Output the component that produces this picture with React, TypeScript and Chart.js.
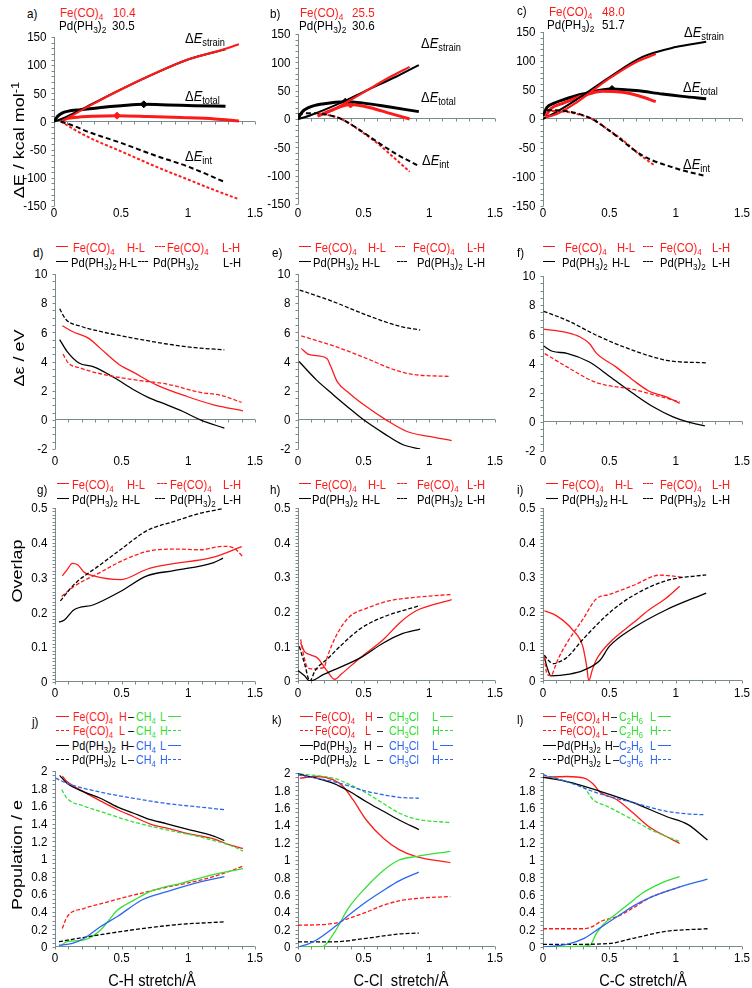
import React, { useEffect, useRef } from 'react';
import { Chart, registerables } from 'chart.js';
Chart.register(...registerables);

type Pts = [number, number][];

// ---------- a) C-H ----------
const aPdStrain: Pts = [[0,0],[0.05,4],[0.1,9],[0.25,27],[0.5,57],[0.75,85],[1,110],[1.28,128]];
const aFeStrain: Pts = [[0.05,0],[0.1,6],[0.25,26],[0.5,57],[0.75,85],[1,110],[1.25,127],[1.38,137]];
const aPdTotal: Pts = [[0,0],[0.03,10],[0.06,15],[0.1,18],[0.2,21],[0.35,25],[0.5,28],[0.67,30.5],[0.85,29.5],[1.05,28],[1.28,27]];
const aFeTotal: Pts = [[0.05,0],[0.08,4],[0.15,7],[0.3,9.5],[0.47,10.4],[0.7,9],[0.95,7],[1.2,4.5],[1.38,1]];
const aPdInt: Pts = [[0.05,0],[0.15,-8],[0.25,-18],[0.5,-38],[0.75,-60],[1,-80],[1.27,-107]];
const aFeInt: Pts = [[0.05,0],[0.25,-27],[0.5,-53],[0.75,-79],[1,-103],[1.2,-122],[1.38,-138]];
const aPdTS: Pts = [[0.67,30.5]];
const aFeTS: Pts = [[0.47,10.4]];
// ---------- b) C-Cl ----------
const bPdStrain: Pts = [[0,0],[0.05,3],[0.1,7],[0.2,16],[0.35,31],[0.5,48],[0.75,75],[0.92,95]];
const bFeStrain: Pts = [[0.15,5],[0.25,14],[0.35,27],[0.5,47],[0.7,74],[0.85,92]];
const bPdTotal: Pts = [[0,0],[0.03,12],[0.08,20],[0.2,27],[0.36,30.6],[0.5,28],[0.7,21],[0.92,13]];
const bFeTotal: Pts = [[0.15,5],[0.25,15],[0.4,25.5],[0.55,20],[0.7,10],[0.85,0]];
const bPdInt: Pts = [[0,8],[0.05,10],[0.15,10],[0.25,6],[0.33,0],[0.5,-24],[0.6,-40],[0.75,-62],[0.92,-83]];
const bFeInt: Pts = [[0.15,10],[0.25,6],[0.33,0],[0.5,-25],[0.6,-42],[0.7,-62],[0.85,-93]];
const bPdTS: Pts = [[0.36,30.6]];
const bFeTS: Pts = [[0.4,25.5]];
// ---------- c) C-C ----------
const cPdStrain: Pts = [[0,0],[0.1,12],[0.25,33],[0.5,72],[0.75,107],[1,124],[1.23,133]];
const cFeStrain: Pts = [[0.02,3],[0.1,8],[0.25,28],[0.5,70],[0.7,98],[0.85,112]];
const cPdTotal: Pts = [[0,5],[0.03,20],[0.08,27],[0.15,33],[0.3,43],[0.52,51.7],[0.7,49],[0.9,43],[1.05,39],[1.23,35]];
const cFeTotal: Pts = [[0.02,5],[0.06,18],[0.15,27],[0.3,40],[0.45,48],[0.6,46],[0.72,40],[0.85,30]];
const cPdInt: Pts = [[0.03,15],[0.1,15],[0.25,10],[0.37,0],[0.5,-20],[0.75,-63],[1,-85],[1.22,-98]];
const cFeInt: Pts = [[0.03,14],[0.1,14],[0.25,9],[0.37,0],[0.5,-20],[0.6,-36],[0.72,-60],[0.84,-80]];
const cPdTS: Pts = [[0.52,51.7]];
// ---------- d) gaps C-H ----------
const dPdLH: Pts = [[0.035,7.62],[0.08,6.9],[0.2,6.4],[0.34,6.06],[0.59,5.6],[0.84,5.2],[1.05,4.95],[1.27,4.8]];
const dFeHL: Pts = [[0.055,6.45],[0.13,6.06],[0.25,5.6],[0.34,4.9],[0.48,3.8],[0.59,3.25],[0.76,2.4],[0.99,1.6],[1.19,1.03],[1.41,0.62]];
const dFeLH: Pts = [[0.06,4.5],[0.1,3.9],[0.19,3.55],[0.34,3.16],[0.59,2.75],[0.84,2.45],[1.09,1.88],[1.25,1.67],[1.4,1.19]];
const dPdHL: Pts = [[0.035,5.5],[0.09,4.7],[0.18,3.9],[0.28,3.66],[0.34,3.43],[0.47,2.75],[0.59,2.06],[0.71,1.49],[0.84,1.03],[0.96,0.57],[1.09,0],[1.27,-0.57]];
// ---------- e) gaps C-Cl ----------
const ePdLH: Pts = [[0.013,8.9],[0.27,8.1],[0.52,7.19],[0.78,6.4],[0.93,6.16]];
const eFeLH: Pts = [[0.025,5.75],[0.27,5.07],[0.52,4.22],[0.7,3.54],[0.85,3.15],[1.16,2.97]];
const eFeHL: Pts = [[0.025,4.9],[0.076,4.5],[0.14,4.4],[0.22,4.2],[0.25,3.65],[0.3,2.6],[0.39,1.83],[0.52,0.91],[0.67,0],[0.83,-0.8],[1.0,-1.14],[1.17,-1.42]];
const ePdHL: Pts = [[0.008,4.0],[0.14,2.74],[0.27,1.71],[0.39,0.8],[0.5,0],[0.65,-0.91],[0.8,-1.71],[0.93,-2.0]];
// ---------- f) gaps C-C ----------
const fPdLH: Pts = [[0.005,7.58],[0.18,6.96],[0.43,5.82],[0.68,4.9],[0.93,4.22],[1.23,4.04]];
const fFeHL: Pts = [[0.005,6.35],[0.18,6.12],[0.28,5.82],[0.35,5.37],[0.4,4.73],[0.55,3.77],[0.68,2.85],[0.8,2.1],[0.93,1.71],[1.03,1.26]];
const fFeLH: Pts = [[0.013,4.68],[0.18,3.77],[0.4,2.7],[0.68,2.22],[0.8,1.94],[1.03,1.37]];
const fPdHL: Pts = [[0.005,5.2],[0.07,4.84],[0.18,4.7],[0.35,4.1],[0.5,3.13],[0.68,1.94],[0.83,1.03],[0.98,0.34],[1.09,0],[1.22,-0.27]];
// ---------- g) overlap C-H ----------
const gPdLH: Pts = [[0.04,0.233],[0.14,0.279],[0.34,0.337],[0.49,0.38],[0.69,0.435],[0.89,0.461],[1.09,0.485],[1.26,0.498]];
const gFeHL: Pts = [[0.055,0.305],[0.09,0.322],[0.13,0.341],[0.17,0.337],[0.22,0.315],[0.29,0.305],[0.49,0.294],[0.69,0.324],[0.84,0.337],[1.19,0.359],[1.4,0.389]];
const gFeLH: Pts = [[0.05,0.246],[0.14,0.274],[0.34,0.315],[0.49,0.346],[0.69,0.375],[0.89,0.382],[1.09,0.38],[1.26,0.39],[1.34,0.385],[1.41,0.36]];
const gPdHL: Pts = [[0.03,0.172],[0.07,0.178],[0.14,0.207],[0.29,0.222],[0.49,0.26],[0.69,0.305],[0.89,0.32],[1.19,0.343],[1.26,0.356]];
// ---------- h) overlap C-Cl ----------
const hFeLH: Pts = [[0.02,0.12],[0.04,0.08],[0.07,0.04],[0.1,0.035],[0.2,0.04],[0.22,0.066],[0.29,0.13],[0.39,0.185],[0.52,0.21],[0.7,0.232],[0.9,0.242],[1.16,0.25]];
const hPdLH: Pts = [[0.01,0.1],[0.05,0.05],[0.09,0.0],[0.13,0.03],[0.23,0.066],[0.32,0.1],[0.47,0.15],[0.65,0.185],[0.93,0.218]];
const hFeHL: Pts = [[0.02,0.11],[0.05,0.085],[0.1,0.075],[0.15,0.066],[0.22,0.03],[0.28,0.005],[0.33,0.02],[0.47,0.066],[0.65,0.12],[0.78,0.17],[0.9,0.203],[1.17,0.235]];
const hPdHL: Pts = [[0.0,0.03],[0.05,0.015],[0.09,0.0],[0.2,0.02],[0.47,0.066],[0.65,0.11],[0.78,0.135],[0.93,0.15]];
// ---------- i) overlap C-C ----------
const iFeLH: Pts = [[0.01,0.07],[0.03,0.02],[0.06,0.015],[0.09,0.04],[0.11,0.06],[0.18,0.11],[0.3,0.178],[0.4,0.237],[0.5,0.25],[0.68,0.276],[0.88,0.306],[1.055,0.3]];
const iPdLH: Pts = [[0.01,0.075],[0.04,0.06],[0.08,0.05],[0.12,0.055],[0.18,0.068],[0.3,0.12],[0.5,0.197],[0.68,0.247],[0.93,0.29],[1.23,0.307]];
const iFeHL: Pts = [[0.01,0.203],[0.1,0.189],[0.23,0.145],[0.3,0.1],[0.33,0.04],[0.345,0.0],[0.37,0.03],[0.4,0.06],[0.5,0.11],[0.68,0.168],[0.8,0.206],[0.93,0.24],[1.03,0.274]];
const iPdHL: Pts = [[0.01,0.07],[0.03,0.04],[0.06,0.015],[0.2,0.02],[0.3,0.03],[0.43,0.06],[0.5,0.1],[0.68,0.153],[0.93,0.206],[1.23,0.254]];
// ---------- j) populations C-H ----------
const jCH4H_Pd: Pts = [[0.005,1.92],[0.09,1.86],[0.34,1.76],[0.59,1.69],[0.84,1.63],[1.09,1.59],[1.27,1.56]];
const jPdH: Pts = [[0.035,1.95],[0.09,1.86],[0.22,1.76],[0.34,1.69],[0.47,1.59],[0.59,1.52],[0.69,1.46],[0.84,1.4],[0.96,1.35],[1.19,1.26],[1.27,1.21]];
const jFeH: Pts = [[0.055,1.94],[0.09,1.88],[0.22,1.76],[0.34,1.66],[0.47,1.56],[0.59,1.48],[0.71,1.4],[0.84,1.35],[0.99,1.29],[1.19,1.23],[1.31,1.16],[1.41,1.12]];
const jCH4H_Fe: Pts = [[0.05,1.79],[0.09,1.69],[0.22,1.6],[0.34,1.54],[0.59,1.42],[0.84,1.33],[1.09,1.25],[1.34,1.14],[1.41,1.09]];
const jFeL: Pts = [[0.055,0.21],[0.09,0.34],[0.22,0.44],[0.34,0.49],[0.59,0.59],[0.84,0.68],[1.09,0.76],[1.29,0.85],[1.41,0.92]];
const jCH4L_Fe: Pts = [[0.04,0.01],[0.09,0.06],[0.22,0.08],[0.34,0.19],[0.47,0.42],[0.59,0.53],[0.71,0.63],[0.96,0.73],[1.21,0.83],[1.41,0.89]];
const jCH4L_Pd: Pts = [[0.03,0.02],[0.13,0.04],[0.22,0.1],[0.34,0.23],[0.47,0.35],[0.66,0.54],[0.84,0.63],[1.09,0.74],[1.27,0.8]];
const jPdL: Pts = [[0.03,0.06],[0.22,0.11],[0.47,0.17],[0.71,0.22],[0.96,0.26],[1.27,0.285]];
// ---------- k) populations C-Cl ----------
const kCH3ClH_Fe: Pts = [[0.013,1.99],[0.27,1.94],[0.39,1.87],[0.52,1.77],[0.65,1.65],[0.77,1.54],[0.9,1.47],[1.16,1.43]];
const kPdH: Pts = [[0,1.99],[0.14,1.94],[0.27,1.88],[0.39,1.79],[0.52,1.67],[0.65,1.56],[0.77,1.46],[0.92,1.35]];
const kCH3ClH_Pd: Pts = [[0,1.98],[0.27,1.9],[0.39,1.85],[0.52,1.79],[0.65,1.75],[0.77,1.72],[0.92,1.71]];
const kFeH: Pts = [[0.013,1.94],[0.14,1.96],[0.27,1.92],[0.34,1.85],[0.42,1.69],[0.52,1.46],[0.65,1.25],[0.77,1.12],[0.9,1.04],[1.16,0.97]];
const kCH3ClL_Fe: Pts = [[0,0],[0.18,0],[0.27,0.15],[0.39,0.46],[0.52,0.69],[0.65,0.88],[0.77,1.0],[0.9,1.04],[1.16,1.1]];
const kCH3ClL_Pd: Pts = [[0,0],[0.07,0.03],[0.14,0.08],[0.27,0.22],[0.39,0.37],[0.52,0.52],[0.65,0.65],[0.77,0.76],[0.92,0.86]];
const kFeL: Pts = [[0,0.25],[0.27,0.27],[0.39,0.33],[0.52,0.4],[0.65,0.48],[0.77,0.53],[0.92,0.56],[1.16,0.58]];
const kPdL: Pts = [[0,0.06],[0.27,0.06],[0.52,0.1],[0.77,0.15],[0.92,0.16]];
// ---------- l) populations C-C ----------
const lFeH: Pts = [[0,1.95],[0.18,1.96],[0.31,1.94],[0.38,1.87],[0.43,1.78],[0.56,1.69],[0.68,1.54],[0.81,1.37],[0.93,1.27],[1.03,1.19]];
const lC2H6H_Fe: Pts = [[0,1.98],[0.18,1.9],[0.31,1.83],[0.38,1.69],[0.48,1.62],[0.68,1.46],[0.81,1.35],[1.03,1.21]];
const lPdH: Pts = [[0,1.95],[0.18,1.9],[0.43,1.79],[0.68,1.66],[0.93,1.5],[1.09,1.41],[1.24,1.23]];
const lC3H6H_Pd: Pts = [[0,1.98],[0.18,1.9],[0.43,1.76],[0.68,1.66],[0.93,1.56],[1.09,1.53],[1.22,1.52]];
const lC2H6L_Fe: Pts = [[0,0],[0.31,0.01],[0.36,0.03],[0.4,0.15],[0.45,0.25],[0.55,0.38],[0.65,0.5],[0.75,0.62],[0.9,0.74],[1.03,0.81]];
const lC2H6L_Pd: Pts = [[0,0],[0.18,0.03],[0.31,0.1],[0.43,0.22],[0.56,0.35],[0.68,0.47],[0.81,0.57],[1.01,0.68],[1.24,0.78]];
const lFeL: Pts = [[0,0.21],[0.31,0.21],[0.38,0.24],[0.43,0.29],[0.56,0.35],[0.68,0.45],[0.81,0.57],[1.03,0.69]];
const lPdL: Pts = [[0,0.03],[0.18,0.03],[0.5,0.04],[0.68,0.1],[0.93,0.18],[1.24,0.21]];

// tick / label texts
const xTickMax = 1.5;
const barriers = { a: ['10.4', '30.5'], b: ['25.5', '30.6'], c: ['48.0', '51.7'] };

const RED = '#ff1a1a';
const BLK = '#000000';
const GRN = '#33e033';
const BLU = '#2a66f0';
const AXIS = '#7b8a8a';
const FONT = '"Liberation Sans", Arial, Helvetica, sans-serif';
const K = 0.86; // horizontal squeeze of the original lettering

type S = { d: Pts; c: string; w: number; dash?: number[]; mark?: boolean };
type PanelCfg = { L: number; R: number; T: number; B: number; ymin: number; ymax: number; ystep: number; yminor: number; xlab: number; series: S[] };

const D1 = [5, 3];
const D2 = [4, 2];
const row1 = (strPd: Pts, strFe: Pts, totPd: Pts, totFe: Pts, intPd: Pts, intFe: Pts, marks: S[]): S[] => [
  { d: intPd, c: BLK, w: 2, dash: D1 },
  { d: intFe, c: RED, w: 2, dash: [3, 2] },
  { d: strFe, c: RED, w: 2.2 },
  { d: strPd, c: BLK, w: 2 },
  { d: totFe, c: RED, w: 3 },
  { d: totPd, c: BLK, w: 3 },
  ...marks,
];
const gap = (pdLH: Pts, feHL: Pts, feLH: Pts, pdHL: Pts): S[] => [
  { d: pdLH, c: BLK, w: 1.3, dash: D2 },
  { d: feLH, c: RED, w: 1.3, dash: D2 },
  { d: pdHL, c: BLK, w: 1.3 },
  { d: feHL, c: RED, w: 1.3 },
];
const pop = (feH: Pts, molL_Fe: Pts, feL: Pts, molH_Fe: Pts, pdH: Pts, molL_Pd: Pts, pdL: Pts, molH_Pd: Pts): S[] => [
  { d: molH_Pd, c: BLU, w: 1.3, dash: D2 },
  { d: molL_Pd, c: BLU, w: 1.3 },
  { d: pdH, c: BLK, w: 1.3 },
  { d: pdL, c: BLK, w: 1.3, dash: D2 },
  { d: molH_Fe, c: GRN, w: 1.3, dash: D2 },
  { d: molL_Fe, c: GRN, w: 1.3 },
  { d: feL, c: RED, w: 1.3, dash: D2 },
  { d: feH, c: RED, w: 1.3 },
];
const mk = (d: Pts, c: string): S => ({ d, c, w: 1, mark: true });

const panels: PanelCfg[] = [
  { L: 54, R: 255, T: 37, B: 206, ymin: -150, ymax: 150, ystep: 50, yminor: 10, xlab: 7, series: row1(aPdStrain, aFeStrain, aPdTotal, aFeTotal, aPdInt, aFeInt, [mk(aFeTS, RED), mk(aPdTS, BLK)]) },
  { L: 298, R: 495, T: 34, B: 204, ymin: -150, ymax: 150, ystep: 50, yminor: 10, xlab: 9, series: row1(bPdStrain, bFeStrain, bPdTotal, bFeTotal, bPdInt, bFeInt, [mk(bFeTS, RED), mk(bPdTS, BLK)]) },
  { L: 543, R: 742, T: 32, B: 206, ymin: -150, ymax: 150, ystep: 50, yminor: 10, xlab: 7, series: row1(cPdStrain, cFeStrain, cPdTotal, cFeTotal, cPdInt, cFeInt, [mk(cPdTS, BLK)]) },
  { L: 55, R: 255, T: 274, B: 449, ymin: -2, ymax: 10, ystep: 2, yminor: 0.5, xlab: 12, series: gap(dPdLH, dFeHL, dFeLH, dPdHL) },
  { L: 298, R: 495, T: 274, B: 449, ymin: -2, ymax: 10, ystep: 2, yminor: 0.5, xlab: 12, series: gap(ePdLH, eFeHL, eFeLH, ePdHL) },
  { L: 543, R: 742, T: 276, B: 451, ymin: -2, ymax: 10, ystep: 2, yminor: 0.5, xlab: 10, series: gap(fPdLH, fFeHL, fFeLH, fPdHL) },
  { L: 55, R: 255, T: 508, B: 682, ymin: 0, ymax: 0.5, ystep: 0.1, yminor: 0.01, xlab: 11, series: gap(gPdLH, gFeHL, gFeLH, gPdHL) },
  { L: 298, R: 495, T: 508, B: 681, ymin: 0, ymax: 0.5, ystep: 0.1, yminor: 0.01, xlab: 12, series: gap(hPdLH, hFeHL, hFeLH, hPdHL) },
  { L: 543, R: 742, T: 508, B: 681, ymin: 0, ymax: 0.5, ystep: 0.1, yminor: 0.01, xlab: 12, series: gap(iPdLH, iFeHL, iFeLH, iPdHL) },
  { L: 55, R: 255, T: 771, B: 947, ymin: 0, ymax: 2, ystep: 0.2, yminor: 0.05, xlab: 11, series: pop(jFeH, jCH4L_Fe, jFeL, jCH4H_Fe, jPdH, jCH4L_Pd, jPdL, jCH4H_Pd) },
  { L: 298, R: 495, T: 773, B: 947, ymin: 0, ymax: 2, ystep: 0.2, yminor: 0.05, xlab: 11, series: pop(kFeH, kCH3ClL_Fe, kFeL, kCH3ClH_Fe, kPdH, kCH3ClL_Pd, kPdL, kCH3ClH_Pd) },
  { L: 543, R: 742, T: 773, B: 947, ymin: 0, ymax: 2, ystep: 0.2, yminor: 0.05, xlab: 11, series: pop(lFeH, lC2H6L_Fe, lFeL, lC2H6H_Fe, lPdH, lC2H6L_Pd, lPdL, lC3H6H_Pd) },
];

const fmt = (v: number | string) => String(+(+v).toFixed(2));

const YW = 52, PT = 12, PR = 16, XH = 26;
const TICK_SIZE = 13.5;

function Panel({ p }: { p: PanelCfg }) {
  const ref = useRef<HTMLCanvasElement>(null);
  const W = p.R - p.L + YW + PR;
  const H = p.B - p.T + PT + XH;
  useEffect(() => {
    const axisPlugin = {
      id: 'axesDraw',
      beforeDatasetsDraw(chart: any) {
        const { ctx, chartArea: a, scales } = chart;
        const xs = scales.x, ys = scales.y;
        const x0 = Math.round(xs.getPixelForValue(0)) + 0.5;
        const y0 = Math.round(ys.getPixelForValue(Math.max(0, p.ymin))) - 0.5;
        ctx.save();
        ctx.strokeStyle = AXIS;
        ctx.lineWidth = 1;
        ctx.beginPath();
        ctx.moveTo(x0, a.top);
        ctx.lineTo(x0, a.bottom);
        ctx.moveTo(a.left, y0);
        ctx.lineTo(a.right, y0);
        const n = Math.round((p.ymax - p.ymin) / p.yminor);
        for (let i = 0; i <= n; i++) {
          const y = Math.round(ys.getPixelForValue(p.ymin + i * p.yminor)) + 0.5;
          ctx.moveTo(x0 - 3, y);
          ctx.lineTo(x0, y);
        }
        for (let i = 0; i <= 15; i++) {
          const x = Math.round(xs.getPixelForValue(i * 0.1)) + 0.5;
          ctx.moveTo(x, y0);
          ctx.lineTo(x, y0 + 3);
        }
        ctx.stroke();
        // tick labels from the library's own ticks, drawn with the squeezed lettering
        ctx.fillStyle = '#000';
        ctx.font = `${TICK_SIZE}px ${FONT}`;
        ctx.textBaseline = 'middle';
        ctx.textAlign = 'right';
        ys.ticks.forEach((t: any) => {
          const y = ys.getPixelForValue(t.value);
          ctx.save();
          ctx.translate(x0 - 8, y + 0.5);
          ctx.scale(K, 1);
          ctx.fillText(fmt(t.value), 0, 0);
          ctx.restore();
        });
        ctx.textAlign = 'center';
        xs.ticks.forEach((t: any) => {
          const x = xs.getPixelForValue(t.value);
          ctx.save();
          ctx.translate(x, a.bottom + p.xlab);
          ctx.scale(K, 1);
          ctx.fillText(fmt(t.value), 0, 0);
          ctx.restore();
        });
        ctx.restore();
      },
    };
    const chart = new Chart(ref.current as HTMLCanvasElement, {
      type: 'scatter',
      data: {
        datasets: p.series.map((s) => ({
          data: s.d.map(([x, y]) => ({ x, y })),
          showLine: !s.mark,
          borderColor: s.c,
          backgroundColor: s.c,
          borderWidth: s.w,
          borderDash: s.dash || [],
          pointRadius: s.mark ? 3.5 : 0,
          pointHoverRadius: 0,
          pointStyle: 'rectRot',
          cubicInterpolationMode: 'monotone',
          fill: false,
        })) as any,
      },
      options: {
        animation: false,
        responsive: false,
        devicePixelRatio: 1,
        events: [],
        layout: { padding: { top: PT, right: PR, left: 0, bottom: 0 } },
        plugins: { legend: { display: false }, tooltip: { enabled: false } },
        scales: {
          x: {
            type: 'linear', min: 0, max: xTickMax,
            afterFit: (s: any) => { s.height = XH; },
            grid: { display: false, drawTicks: false },
            border: { display: false },
            ticks: { display: false, stepSize: 0.5, autoSkip: false },
          },
          y: {
            type: 'linear', min: p.ymin, max: p.ymax,
            afterFit: (s: any) => { s.width = YW; },
            grid: { display: false, drawTicks: false },
            border: { display: false },
            ticks: { display: false, stepSize: p.ystep, autoSkip: false },
          },
        },
      } as any,
      plugins: [axisPlugin],
    });
    return () => chart.destroy();
  }, []);
  return <canvas ref={ref} width={W} height={H} style={{ position: 'absolute', left: p.L - YW, top: p.T - PT, width: W, height: H }} />;
}

function rich(s: string) {
  const parts = s.split(/(_\{[^}]*\}|\^\{[^}]*\})/);
  return parts.map((t, i) => {
    if (t.startsWith('_{')) return <span key={i} style={{ fontSize: '0.72em', verticalAlign: '-0.28em' }}>{t.slice(2, -1)}</span>;
    if (t.startsWith('^{')) return <span key={i} style={{ fontSize: '0.72em', verticalAlign: '0.45em' }}>{t.slice(2, -1)}</span>;
    return <React.Fragment key={i}>{t}</React.Fragment>;
  });
}

type Item = { x: number; y: number; c: string; s?: string; w?: number; dash?: boolean; size?: number };

function Draw({ it }: { it: Item }) {
  if (it.w) {
    return <div style={{ position: 'absolute', left: it.x, top: it.y - 0.75, width: it.w, borderTop: `1.5px ${it.dash ? 'dashed' : 'solid'} ${it.c}` }} />;
  }
  const size = it.size || 13.5;
  return (
    <div style={{ position: 'absolute', left: it.x, top: it.y - size * 0.49, fontSize: size, lineHeight: `${size}px`, color: it.c, fontFamily: FONT, whiteSpace: 'nowrap', transform: `scaleX(${K})`, transformOrigin: '0 50%' }}>
      {rich(it.s || '')}
    </div>
  );
}

const FE = 'Fe(CO)_{4}';
const PD = 'Pd(PH_{3})_{2}';
const LS = 13;

function legHL(p: number[], y1: number, y2: number): Item[] {
  const [sa, fe, hl1, d1, fe2, lh1, pd, hl2, d2, pd2, lh2] = p;
  return [
    { x: sa, y: y1, w: 12, c: RED }, { x: fe, y: y1, s: FE, c: RED, size: LS }, { x: hl1, y: y1, s: 'H-L', c: RED, size: LS },
    { x: d1, y: y1, w: 10, dash: true, c: RED }, { x: fe2, y: y1, s: FE, c: RED, size: LS }, { x: lh1, y: y1, s: 'L-H', c: RED, size: LS },
    { x: sa, y: y2, w: 12, c: BLK }, { x: pd, y: y2, s: PD, c: BLK, size: LS }, { x: hl2, y: y2, s: 'H-L', c: BLK, size: LS },
    { x: d2, y: y2, w: 10, dash: true, c: BLK }, { x: pd2, y: y2, s: PD, c: BLK, size: LS }, { x: lh2, y: y2, s: 'L-H', c: BLK, size: LS },
  ];
}

function legPop(p: number[], ys: number[], mols: string[]): Item[] {
  const [sa, fe, pd, hfe, hpd, dfe, dpd, mol, lh, s2] = p;
  const out: Item[] = [];
  const rows: [string, string, boolean, string, string][] = [
    [FE, RED, false, 'H', 'L'],
    [FE, RED, true, 'L', 'H'],
    [PD, BLK, false, 'H', 'L'],
    [PD, BLK, true, 'L', 'H'],
  ];
  const sz = 12.5;
  rows.forEach(([name, col, dash, a, b], i) => {
    const y = ys[i];
    const isFe = i < 2;
    const mc = isFe ? GRN : BLU;
    out.push({ x: sa, y, w: 13, dash, c: col });
    out.push({ x: isFe ? fe : pd, y, s: name, c: col, size: sz });
    out.push({ x: isFe ? hfe : hpd, y, s: a, c: col, size: sz });
    out.push({ x: isFe ? dfe : dpd, y, s: '–', c: BLK, size: sz });
    out.push({ x: mol, y, s: mols[i], c: mc, size: sz });
    out.push({ x: lh, y, s: b, c: mc, size: sz });
    out.push({ x: s2, y, w: 13, dash, c: mc });
  });
  return out;
}

const annotations: Item[] = [
  { x: 27, y: 14, s: 'a)', c: BLK }, { x: 60, y: 13, s: FE, c: RED }, { x: 113, y: 13, s: barriers.a[0], c: RED },
  { x: 59, y: 26, s: PD, c: BLK }, { x: 112, y: 26, s: barriers.a[1], c: BLK },
  { x: 270, y: 14, s: 'b)', c: BLK }, { x: 300, y: 13, s: FE, c: RED }, { x: 352, y: 13, s: barriers.b[0], c: RED },
  { x: 299, y: 26, s: PD, c: BLK }, { x: 352, y: 26, s: barriers.b[1], c: BLK },
  { x: 517, y: 11, s: 'c)', c: BLK }, { x: 549, y: 12, s: FE, c: RED }, { x: 602, y: 12, s: barriers.c[0], c: RED },
  { x: 547, y: 25, s: PD, c: BLK }, { x: 602, y: 25, s: barriers.c[1], c: BLK },
  { x: 33, y: 253, s: 'd)', c: BLK }, { x: 272, y: 253, s: 'e)', c: BLK }, { x: 517, y: 253, s: 'f)', c: BLK },
  { x: 37, y: 490, s: 'g)', c: BLK }, { x: 270, y: 490, s: 'h)', c: BLK }, { x: 517, y: 490, s: 'i)', c: BLK },
  { x: 32, y: 722, s: 'j)', c: BLK }, { x: 272, y: 720, s: 'k)', c: BLK }, { x: 517, y: 720, s: 'l)', c: BLK },
  ...legHL([56, 73, 127, 155, 167, 222, 71, 119, 138, 153, 223], 247, 262),
  ...legHL([299, 315, 368, 395, 413, 467, 313, 362, 397, 417, 467], 247, 262),
  ...legHL([543, 565, 617, 643, 660, 712, 562, 612, 643, 660, 712], 247, 262),
  ...legHL([57, 72, 127, 157, 170, 223, 72, 122, 155, 170, 223], 484, 499),
  ...legHL([299, 315, 368, 397, 417, 467, 312, 362, 397, 417, 467], 484, 499),
  ...legHL([546, 562, 615, 643, 660, 712, 562, 610, 643, 660, 712], 484, 499),
  ...legPop([56, 73, 72, 119, 121, 128, 128, 136, 160, 168], [717, 731, 746, 760], ['CH_{4}', 'CH_{4}', 'CH_{4}', 'CH_{4}']),
  ...legPop([300, 315, 313, 365, 364, 377, 377, 389, 432, 440], [717, 731, 746, 760], ['CH_{3}Cl', 'CH_{3}Cl', 'CH_{3}Cl', 'CH_{3}Cl']),
  ...legPop([543, 560, 557, 602, 605, 611, 613, 619, 650, 658], [717, 731, 746, 760], ['C_{2}H_{6}', 'C_{2}H_{6}', 'C_{2}H_{6}', 'C_{3}H_{6}']),
];

const dE = (x: number, y: number, sub: string) => (
  <div key={`${x}-${y}`} style={{ position: 'absolute', left: x, top: y - 7.5, fontSize: 15, lineHeight: '15px', fontFamily: FONT, whiteSpace: 'nowrap', color: '#000', transform: `scaleX(${K})`, transformOrigin: '0 50%' }}>
    Δ<i>E</i><span style={{ fontSize: '0.72em', verticalAlign: '-0.3em' }}>{sub}</span>
  </div>
);

const yTitle = (cx: number, cy: number, content: React.ReactNode) => (
  <div style={{ position: 'absolute', left: cx, top: cy, transform: `translate(-50%,-50%) rotate(-90deg) scaleY(${K})`, fontSize: 18, lineHeight: '20px', fontFamily: FONT, whiteSpace: 'nowrap', color: '#000' }}>{content}</div>
);
const xTitle = (cx: number, cy: number, text: string) => (
  <div style={{ position: 'absolute', left: cx, top: cy, transform: `translate(-50%,-50%) scaleX(${K})`, fontSize: 17, lineHeight: '18px', fontFamily: FONT, whiteSpace: 'pre', color: '#000' }}>{text}</div>
);

export default function App() {
  return (
    <div style={{ position: 'absolute', left: 0, top: 0, width: 752, height: 988, overflow: 'hidden', background: '#fff' }}>
      {panels.map((p, i) => <Panel key={i} p={p} />)}
      {annotations.map((it, i) => <Draw key={i} it={it} />)}
      {dE(185, 37, 'strain')}{dE(185, 95, 'total')}{dE(185, 155, 'int')}
      {dE(421, 42, 'strain')}{dE(421, 96, 'total')}{dE(422, 159, 'int')}
      {dE(684, 31, 'strain')}{dE(683, 86, 'total')}{dE(683, 163, 'int')}
      {yTitle(17, 140, <span>ΔE / kcal mol<span style={{ fontSize: '0.72em', verticalAlign: '0.45em' }}>-1</span></span>)}
      {yTitle(19, 358, 'Δε / eV')}
      {yTitle(17, 571, 'Overlap')}
      {yTitle(17, 855, 'Population / e')}
      {xTitle(152, 981, 'C-H stretch/Å')}
      {xTitle(401, 981, 'C-Cl  stretch/Å')}
      {xTitle(643, 981, 'C-C stretch/Å')}
    </div>
  );
}
